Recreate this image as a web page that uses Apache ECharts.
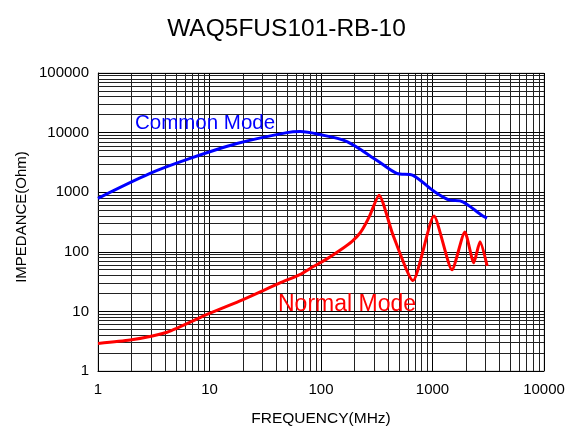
<!DOCTYPE html>
<html><head><meta charset="utf-8">
<script src="https://cdn.jsdelivr.net/npm/echarts@6/dist/echarts.min.js"></script>
<style>html,body{margin:0;padding:0;background:#fff}#c{width:573px;height:432px}</style>
</head><body><div id="c"></div>
<script>
var commonFreq = [1, 2.93, 6.7, 17.6, 49.5, 65, 98, 171, 318, 478, 668, 1000, 1437, 1766, 2830, 3090];
var commonImp  = [790, 2070, 3690, 6560, 10000, 10400, 9260, 7080, 3410, 2070, 1920, 1080, 736, 716, 398, 369];
var normalFreq = [1, 1.94, 4.16, 9.5, 20, 42.9, 64.6, 84.8, 113, 148, 190, 224, 248, 275, 331, 442, 668, 1031, 1496, 1950, 2345, 2667, 3090];
var normalImp  = [2.9, 3.3, 4.47, 8.9, 15.8, 30, 41.4, 56, 76, 106, 150, 207, 282, 414, 891, 192, 32.9, 398, 50, 215, 65.6, 147, 58];
var xTicks = [1, 10, 100, 1000, 10000];
var yTicks = [1, 10, 100, 1000, 10000, 100000];
var titleText = 'WAQ5FUS101-RB-10';
var xName = 'FREQUENCY(MHz)';
var yName = 'IMPEDANCE(Ohm)';
var commonLabel = 'Common Mode';
var normalLabel = 'Normal Mode';

var FONT = 'Liberation Sans, Arial, sans-serif';
function pairs(xs, ys){ return xs.map(function(x,i){return [x, ys[i]];}); }
function gridVals(ticks){
  var out = [];
  for (var i = 0; i < ticks.length - 1; i++) {
    for (var m = 1; m <= 9; m++) out.push({v: ticks[i]*m, major: m === 1});
  }
  out.push({v: ticks[ticks.length-1], major: true});
  return out;
}
var lines = [];
gridVals(xTicks).forEach(function(g){
  lines.push({xAxis: g.v, lineStyle: {color: g.major ? '#000' : '#222', width: 1, type: 'solid'}});
});
gridVals(yTicks).forEach(function(g){
  lines.push({yAxis: g.v, lineStyle: {color: g.major ? '#000' : '#222', width: 1, type: 'solid'}});
});

var chart = echarts.init(document.getElementById('c'));
chart.setOption({
  animation: false,
  backgroundColor: '#fff',
  textStyle: {fontFamily: FONT},
  title: {text: titleText, left: 'center', top: 12,
    textStyle: {fontSize: 24.5, fontWeight: 'normal', color: '#000', fontFamily: FONT}},
  grid: {left: 98, right: 29, top: 73, bottom: 58, show: true, borderColor: '#bbb', borderWidth: 1},
  xAxis: {type: 'log', logBase: 10, min: 1, max: 10000,
    name: xName, nameLocation: 'middle', nameGap: 40,
    nameTextStyle: {fontSize: 15.5, color: '#000'},
    axisLine: {show: true, lineStyle: {color: '#000'}}, axisTick: {show: false},
    splitLine: {show: false},
    axisLabel: {fontSize: 15, color: '#000', margin: 11, formatter: function(v){return String(v);}}},
  yAxis: {type: 'log', logBase: 10, min: 1, max: 100000,
    axisLine: {show: true, lineStyle: {color: '#000'}}, axisTick: {show: false},
    splitLine: {show: false},
    axisLabel: {fontSize: 15, color: '#000', margin: 9, formatter: function(v){return String(v);}}},
  series: [
    {type: 'line', data: [[1,1]], symbol: 'none', lineStyle: {opacity: 0}, silent: true, z: 1,
      markLine: {silent: true, symbol: ['none','none'], label: {show: false}, animation: false, data: lines}},
    {name: commonLabel, type: 'line', data: pairs(commonFreq, commonImp), symbol: 'none', smooth: 0.3,
      lineStyle: {color: '#0000ff', width: 3}, z: 5},
    {name: normalLabel, type: 'line', data: pairs(normalFreq, normalImp), symbol: 'none', smooth: 0.2,
      lineStyle: {color: '#ff0000', width: 3}, z: 5}
  ],
  graphic: [
    {type: 'text', left: 135, top: 113, z: 10, style: {text: commonLabel, fill: '#0000ff', fontSize: 20.5, fontFamily: FONT}},
    {type: 'text', left: 278, top: 293, z: 10, style: {text: normalLabel, fill: '#ff0000', fontSize: 23, fontFamily: FONT}},
    {type: 'text', x: 22, y: 217, rotation: Math.PI/2, z: 10,
      style: {text: yName, fill: '#000', fontSize: 15, fontFamily: FONT, align: 'center', verticalAlign: 'middle'}}
  ]
});
</script></body></html>
